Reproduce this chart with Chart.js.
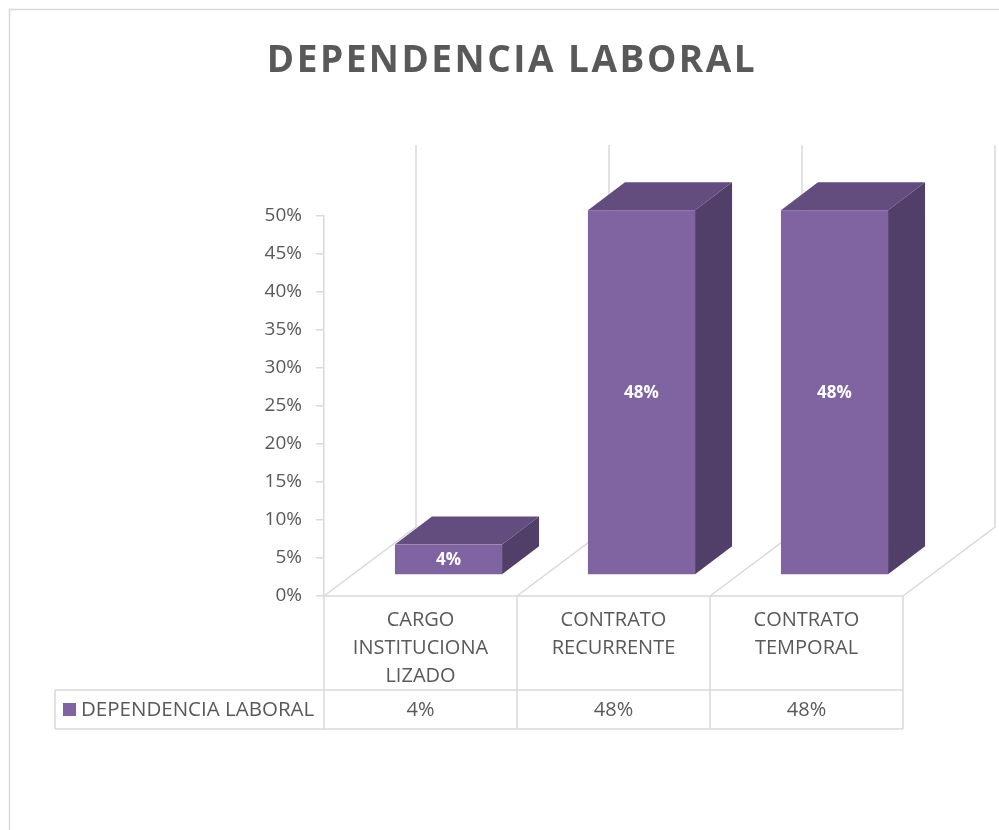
<!DOCTYPE html>
<html>
<head>
<meta charset="utf-8">
<script src="https://cdn.jsdelivr.net/npm/chart.js@4.4.1/dist/chart.umd.min.js"></script>
<style>
  html, body { margin: 0; padding: 0; background: #fff; }
  canvas { display: block; }
</style>
</head>
<body>
<canvas id="chart" width="999" height="830"></canvas>
<script>
const chartTitle = 'DEPENDENCIA LABORAL'
const seriesName = 'DEPENDENCIA LABORAL'
const categories = [
  ['CARGO', 'INSTITUCIONA', 'LIZADO'],
  ['CONTRATO', 'RECURRENTE'],
  ['CONTRATO', 'TEMPORAL']
]
const values = [4, 48, 48]
const yMax = 50
const yStep = 5

const TEXT = '#595959'
const LINE = '#d9d9d9'
const FRONT = '#8064a2'
const TOP = '#634d7e'
const SIDE = '#523f69'
const FONT = '"Open Sans", sans-serif'

// 3D offsets: full floor depth, where the bar front sits, bar thickness
const DEPTH = { x: 92, y: -69 }
const BAR_FRONT = { x: 28, y: -21 }
const BAR_DEPTH = { x: 37, y: -28 }

const pct = v => v + '%'

const frame3d = {
  id: 'frame3d',
  beforeDatasetsDraw(chart) {
    const { ctx, chartArea: { left, right, top, bottom } } = chart
    const step = (right - left) / categories.length
    ctx.save()
    ctx.strokeStyle = LINE
    ctx.lineWidth = 1.5
    for (let i = 0; i <= categories.length; i++) {
      const bx = left + i * step
      ctx.beginPath()
      ctx.moveTo(bx, bottom)
      ctx.lineTo(bx + DEPTH.x, bottom + DEPTH.y)
      ctx.lineTo(bx + DEPTH.x, top + DEPTH.y - 2)
      ctx.stroke()
    }
    ctx.restore()
  },
  afterDatasetsDraw(chart) {
    const { ctx } = chart
    const meta = chart.getDatasetMeta(0)
    ctx.save()
    meta.data.forEach((bar, i) => {
      const { x, y, base, width } = bar.getProps(['x', 'y', 'base', 'width'], true)
      const x1 = x - width / 2 + BAR_FRONT.x
      const x2 = x + width / 2 + BAR_FRONT.x
      const t = y + BAR_FRONT.y
      const b = base + BAR_FRONT.y
      const dx = BAR_DEPTH.x
      const dy = BAR_DEPTH.y

      ctx.fillStyle = TOP
      ctx.beginPath()
      ctx.moveTo(x1, t)
      ctx.lineTo(x1 + dx, t + dy)
      ctx.lineTo(x2 + dx, t + dy)
      ctx.lineTo(x2, t)
      ctx.closePath()
      ctx.fill()

      ctx.fillStyle = SIDE
      ctx.beginPath()
      ctx.moveTo(x2, t)
      ctx.lineTo(x2 + dx, t + dy)
      ctx.lineTo(x2 + dx, b + dy)
      ctx.lineTo(x2, b)
      ctx.closePath()
      ctx.fill()

      ctx.fillStyle = FRONT
      ctx.fillRect(x1, t, x2 - x1, b - t)

      ctx.fillStyle = '#ffffff'
      ctx.font = 'bold 17px ' + FONT
      ctx.textAlign = 'center'
      ctx.textBaseline = 'middle'
      ctx.fillText(pct(values[i]), (x1 + x2) / 2, (t + b) / 2 + 1)
    })
    ctx.restore()
  },
  afterDraw(chart) {
    const { ctx, chartArea: { left, right, bottom } } = chart
    const step = (right - left) / categories.length
    const rowTop = 690
    const rowBottom = 729
    const tableLeft = 55
    ctx.save()

    // outer frame
    ctx.strokeStyle = LINE
    ctx.lineWidth = 1.5
    ctx.strokeRect(9.5, 9.5, 1100, 1000)

    // title
    ctx.fillStyle = TEXT
    ctx.font = 'bold 37px ' + FONT
    ctx.letterSpacing = '2.5px'
    ctx.textAlign = 'center'
    ctx.textBaseline = 'alphabetic'
    ctx.fillText(chartTitle, 512, 72)
    ctx.letterSpacing = '0px'

    // data table grid
    ctx.strokeStyle = LINE
    ctx.lineWidth = 1.5
    ctx.beginPath()
    ctx.moveTo(left, bottom)
    ctx.lineTo(right, bottom)
    ctx.moveTo(tableLeft, rowTop)
    ctx.lineTo(right, rowTop)
    ctx.moveTo(tableLeft, rowBottom)
    ctx.lineTo(right, rowBottom)
    ctx.moveTo(tableLeft, rowTop)
    ctx.lineTo(tableLeft, rowBottom)
    for (let i = 0; i <= categories.length; i++) {
      const bx = left + i * step
      ctx.moveTo(bx, bottom)
      ctx.lineTo(bx, rowBottom)
    }
    ctx.stroke()

    // category labels and values
    ctx.fillStyle = TEXT
    ctx.font = '20px ' + FONT
    ctx.textAlign = 'center'
    ctx.textBaseline = 'middle'
    categories.forEach((lines, i) => {
      const cx = left + (i + 0.5) * step
      lines.forEach((line, j) => {
        ctx.fillText(line, cx, 620 + j * 28)
      })
      ctx.fillText(pct(values[i]), cx, rowTop + 20)
    })

    // legend key
    ctx.fillStyle = FRONT
    ctx.fillRect(63, 703, 13, 13)
    ctx.fillStyle = TEXT
    ctx.font = '20.5px ' + FONT
    ctx.textAlign = 'left'
    ctx.fillText(seriesName, 81, rowTop + 20)
    ctx.restore()
  }
}

const ctx = document.getElementById('chart').getContext('2d')

new Chart(ctx, {
  type: 'bar',
  data: {
    labels: categories,
    datasets: [
      {
        label: seriesName,
        data: values,
        backgroundColor: 'rgba(0, 0, 0, 0)',
        borderWidth: 0,
        barPercentage: 0.555,
        categoryPercentage: 1
      }
    ]
  },
  options: {
    responsive: false,
    animation: false,
    events: [],
    layout: {
      padding: { top: 216, right: 96, bottom: 234, left: 0 }
    },
    plugins: {
      legend: { display: false },
      title: { display: false },
      tooltip: { enabled: false }
    },
    scales: {
      x: {
        display: false
      },
      y: {
        min: 0,
        max: yMax,
        afterFit: (scale) => {
          scale.width = 324
        },
        border: {
          display: true,
          color: LINE,
          width: 1.5
        },
        grid: {
          drawOnChartArea: false,
          drawTicks: true,
          tickLength: 8,
          color: LINE,
          lineWidth: 1.5
        },
        ticks: {
          stepSize: yStep,
          padding: 14,
          color: TEXT,
          font: { family: 'Open Sans', size: 19 },
          callback: (value) => pct(value)
        }
      }
    }
  },
  plugins: [frame3d]
})
</script>
</body>
</html>
